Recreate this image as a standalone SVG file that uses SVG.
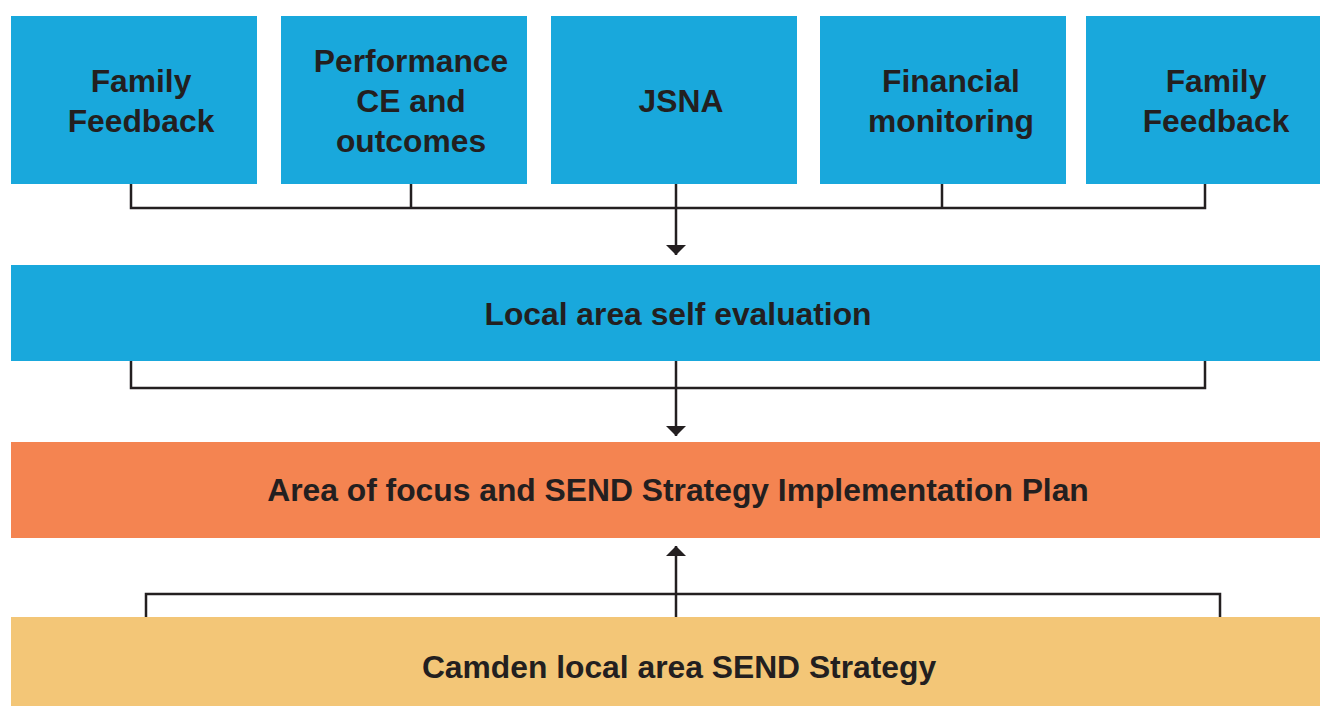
<svg xmlns="http://www.w3.org/2000/svg" width="1320" height="706" viewBox="0 0 1320 706">
<defs>
<style>
.blue{fill:#19A8DC}
.orange{fill:#F48451}
.tan{fill:#F3C677}
.t{font-family:"Liberation Sans",Arial,sans-serif;font-weight:bold;font-size:31.8px;fill:#231F20;text-anchor:middle}
.c{fill:none;stroke:#231F20;stroke-width:2.5}
</style>
<marker id="ah" viewBox="0 0 10 20" refX="10" refY="10" markerWidth="10" markerHeight="20" markerUnits="userSpaceOnUse" orient="auto">
<path d="M0,0 L10,10 L0,20 Z" fill="#231F20"/>
</marker>
</defs>
<rect width="1320" height="706" fill="#fff"/>
<g id="connectors">
<path class="c" d="M131,184 V208 H1205 V184 M411,184 V208 M942,184 V208"/>
<path class="c" d="M676,184 V255" marker-end="url(#ah)"/>
<path class="c" d="M131,361 V388 H1205 V361"/>
<path class="c" d="M676,361 V436" marker-end="url(#ah)"/>
<path class="c" d="M146,617 V594 H1220 V617"/>
<path class="c" d="M676,617 V546" marker-end="url(#ah)"/>
</g>
<g id="n1"><rect class="blue" x="11" y="16" width="246" height="168"/><text class="t" x="141" y="92">Family</text><text class="t" x="141" y="132">Feedback</text></g>
<g id="n2"><rect class="blue" x="281" y="16" width="246" height="168"/><text class="t" x="411" y="72">Performance</text><text class="t" x="411" y="112">CE and</text><text class="t" x="411" y="152">outcomes</text></g>
<g id="n3"><rect class="blue" x="551" y="16" width="246" height="168"/><text class="t" x="681" y="112">JSNA</text></g>
<g id="n4"><rect class="blue" x="820" y="16" width="246" height="168"/><text class="t" x="951" y="92">Financial</text><text class="t" x="951" y="132">monitoring</text></g>
<g id="n5"><rect class="blue" x="1086" y="16" width="234" height="168"/><text class="t" x="1216" y="92">Family</text><text class="t" x="1216" y="132">Feedback</text></g>
<g id="n6"><rect class="blue" x="11" y="265" width="1309" height="96"/><text class="t" x="678" y="325">Local area self evaluation</text></g>
<g id="n7"><rect class="orange" x="11" y="442" width="1309" height="96"/><text class="t" x="678" y="501">Area of focus and SEND Strategy Implementation Plan</text></g>
<g id="n8"><rect class="tan" x="11" y="617" width="1309" height="89"/><text class="t" x="679" y="678">Camden local area SEND Strategy</text></g>
</svg>
